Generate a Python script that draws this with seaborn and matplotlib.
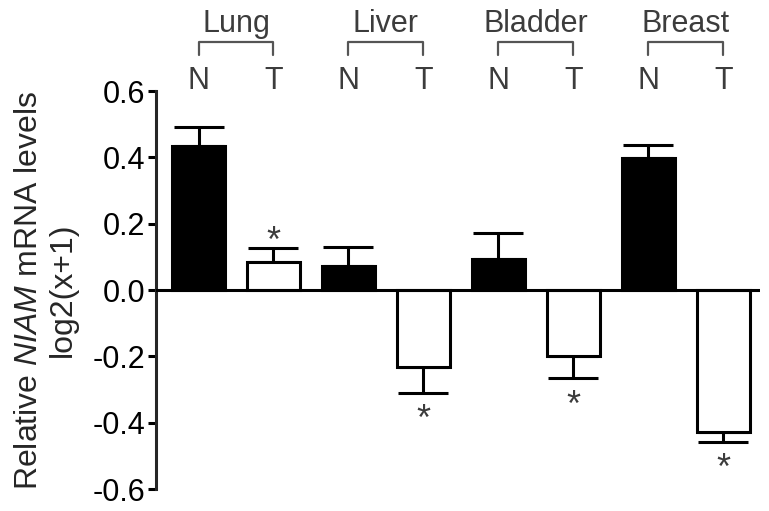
import matplotlib.pyplot as plt
import seaborn as sns
import pandas as pd

# Werte
tissues = ["Lung", "Liver", "Bladder", "Breast"]
conditions = ["N", "T"]
means = [0.435, 0.085, 0.073, -0.233, 0.093, -0.198, 0.399, -0.427]
errors = [0.057, 0.041, 0.058, 0.077, 0.078, 0.068, 0.038, 0.030]
significant = [False, True, False, True, False, True, False, True]
y_ticks = [-0.6, -0.4, -0.2, 0.0, 0.2, 0.4, 0.6]

df = pd.DataFrame({
    "tissue": [t for t in tissues for _ in conditions],
    "condition": conditions * len(tissues),
    "mean": means,
    "err": errors,
    "sig": significant,
})
df["label"] = df["tissue"] + " " + df["condition"]

sns.set_style("ticks")
plt.rcParams["font.family"] = ["Liberation Sans", "DejaVu Sans"]
plt.rcParams["mathtext.fontset"] = "custom"
plt.rcParams["mathtext.it"] = "Liberation Sans:italic"
plt.rcParams["mathtext.rm"] = "Liberation Sans"

LW = 2.2
GREY = "#3c3c3c"

fig = plt.figure(figsize=(7.69, 5.11), dpi=100)
ax = fig.add_axes([156 / 769, 22 / 511, 604 / 769, 398 / 511])

# Fehlerbalken nur in Richtung weg von null
lower = [e if m < 0 else 0 for m, e in zip(df["mean"], df["err"])]
upper = [e if m >= 0 else 0 for m, e in zip(df["mean"], df["err"])]
ax.errorbar(range(len(df)), df["mean"], yerr=[lower, upper], fmt="none",
            ecolor="black", elinewidth=LW, capsize=18, capthick=LW, zorder=1)

sns.barplot(data=df, x="label", y="mean", hue="condition",
            palette={"N": "black", "T": "white"}, dodge=False, width=0.7,
            edgecolor="black", linewidth=LW, legend=False, ax=ax, zorder=2)

ax.axhline(0, color="black", lw=LW, zorder=3)

ax.set_xlim(-0.567, 7.49)
ax.set_ylim(-0.6, 0.6)
ax.set_yticks(y_ticks)
ax.set_yticklabels([f"{v:.1f}" for v in y_ticks], fontsize=22)
ax.set_xticks([])
ax.set_xlabel("")
ax.tick_params(axis="y", length=6, width=LW, pad=2, colors="black")
sns.despine(ax=ax, top=True, right=True, bottom=True)
ax.spines["left"].set_linewidth(LW)

ax.set_ylabel("Relative $\\mathit{NIAM}$ mRNA levels\nlog2(x+1)", fontsize=23,
              linespacing=1.15)
ax.yaxis.set_label_coords(-0.13, 0.5)

# Sternchen fuer signifikante Unterschiede
for i, row in df.iterrows():
    if not row["sig"]:
        continue
    if row["mean"] >= 0:
        y, off = row["mean"] + row["err"], -2.5
    else:
        y, off = row["mean"] - row["err"], -27
    ax.annotate("*", (i, y), xytext=(0, off), textcoords="offset points",
                ha="center", va="baseline", fontsize=26, color=GREY)

# Kopfzeile: N/T und Gewebe-Klammern
trans = ax.get_xaxis_transform()
for i, row in df.iterrows():
    ax.text(i, 1.004, row["condition"], transform=trans, ha="center",
            va="baseline", fontsize=22, color=GREY, clip_on=False)
for g, tissue in enumerate(tissues):
    x0, x1 = 2 * g, 2 * g + 1
    ax.plot([x0, x0, x1, x1], [1.090, 1.123, 1.123, 1.090], transform=trans,
            color="#555555", lw=1.6, clip_on=False)
    ax.text((x0 + x1) / 2, 1.148, tissue, transform=trans, ha="center",
            va="baseline", fontsize=22, color=GREY, clip_on=False)

plt.savefig("out.png", dpi=100)
